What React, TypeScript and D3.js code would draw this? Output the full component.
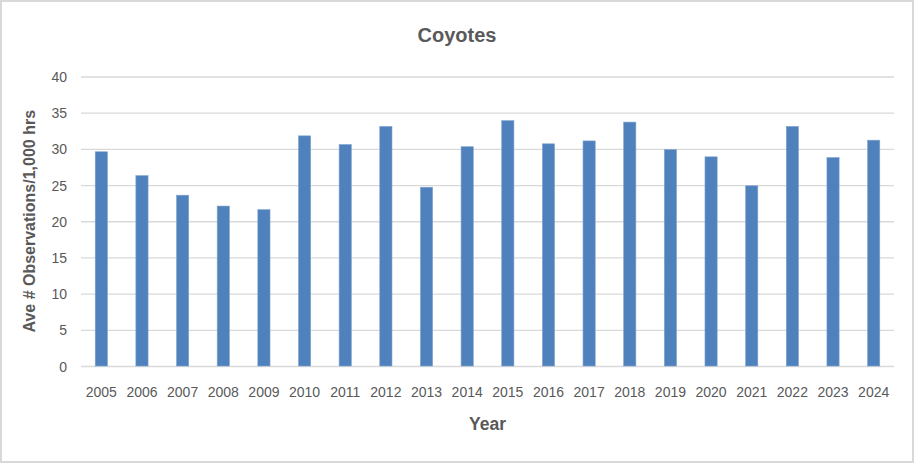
import * as d3 from "d3";
import { useEffect, useRef } from "react";

const years = ["2005", "2006", "2007", "2008", "2009", "2010", "2011", "2012", "2013", "2014",
    "2015", "2016", "2017", "2018", "2019", "2020", "2021", "2022", "2023", "2024"];
const observations = [29.6, 26.3, 23.6, 22.1, 21.6, 31.8, 30.6, 33.1, 24.7, 30.3,
    33.9, 30.7, 31.1, 33.7, 29.9, 28.9, 24.9, 33.1, 28.8, 31.2];
const yTicks = [0, 5, 10, 15, 20, 25, 30, 35, 40];

const chartTitle = "Coyotes";
const xTitle = "Year";
const yTitle = "Ave # Observations/1,000 hrs";

const width = 915;
const height = 464;
const margin = { top: 76.5, right: 21, bottom: 98, left: 81 };
const font = "'Liberation Sans', Arial, sans-serif";
const textColor = "#595959";

function App() {
    const gx = useRef<SVGGElement>(null);
    const gy = useRef<SVGGElement>(null);

    const innerW = width - margin.left - margin.right;
    const innerH = height - margin.top - margin.bottom;

    const x = d3.scaleBand().domain(years).range([0, innerW]).paddingInner(0.7).paddingOuter(0.35);
    const y = d3.scaleLinear().domain([0, 40]).range([innerH, 0]);

    useEffect(() => {
        // x axis: just the labels, the baseline is drawn as a gridline
        const ax = d3.select(gx.current);
        ax.call(d3.axisBottom(x).tickSize(0).tickPadding(0));
        ax.select(".domain").remove();
        ax.selectAll("text")
            .attr("y", 30.5)
            .attr("dy", null)
            .style("font-family", font)
            .style("font-size", "14px")
            .style("fill", textColor);

        const ay = d3.select(gy.current);
        ay.call(d3.axisLeft(y).tickValues(yTicks).tickSize(-innerW).tickPadding(14));
        ay.select(".domain").remove();
        ay.selectAll("line").style("stroke", "#d9d9d9").style("stroke-width", "1.3px");
        ay.selectAll("text")
            .attr("dy", "0.36em")
            .style("font-family", font)
            .style("font-size", "14px")
            .style("fill", textColor);
    }, []);

    return (
        <svg width={width} height={height} style={{ position: "absolute", left: 0, top: 0, background: "#fff" }}>
            <rect x={1} y={1} width={912} height={461} fill="#fff" stroke="#d9d9d9" strokeWidth={2} />
            <text x={457} y={42} textAnchor="middle" fill={textColor}
                style={{ fontFamily: font, fontSize: "20px", fontWeight: "bold" }}>
                {chartTitle}
            </text>
            <g transform={`translate(${margin.left},${margin.top})`}>
                <g ref={gy} />
                <g ref={gx} transform={`translate(0,${innerH})`} />
                <g>
                    {years.map((yr, i) => (
                        <rect
                            key={yr}
                            x={x(yr)}
                            y={y(observations[i])}
                            width={x.bandwidth()}
                            height={innerH - y(observations[i])}
                            fill="#4f81bd"
                            stroke="#7fa3cf"
                            strokeWidth={0.6}
                        />
                    ))}
                </g>
                <text x={innerW / 2} y={innerH + 64} textAnchor="middle" fill={textColor}
                    style={{ fontFamily: font, fontSize: "17.5px", fontWeight: "bold" }}>
                    {xTitle}
                </text>
                <text transform={`translate(${35 - margin.left},${innerH / 2}) rotate(-90)`} textAnchor="middle" fill={textColor}
                    style={{ fontFamily: font, fontSize: "16px", fontWeight: "bold" }}>
                    {yTitle}
                </text>
            </g>
        </svg>
    );
}

export default App;
